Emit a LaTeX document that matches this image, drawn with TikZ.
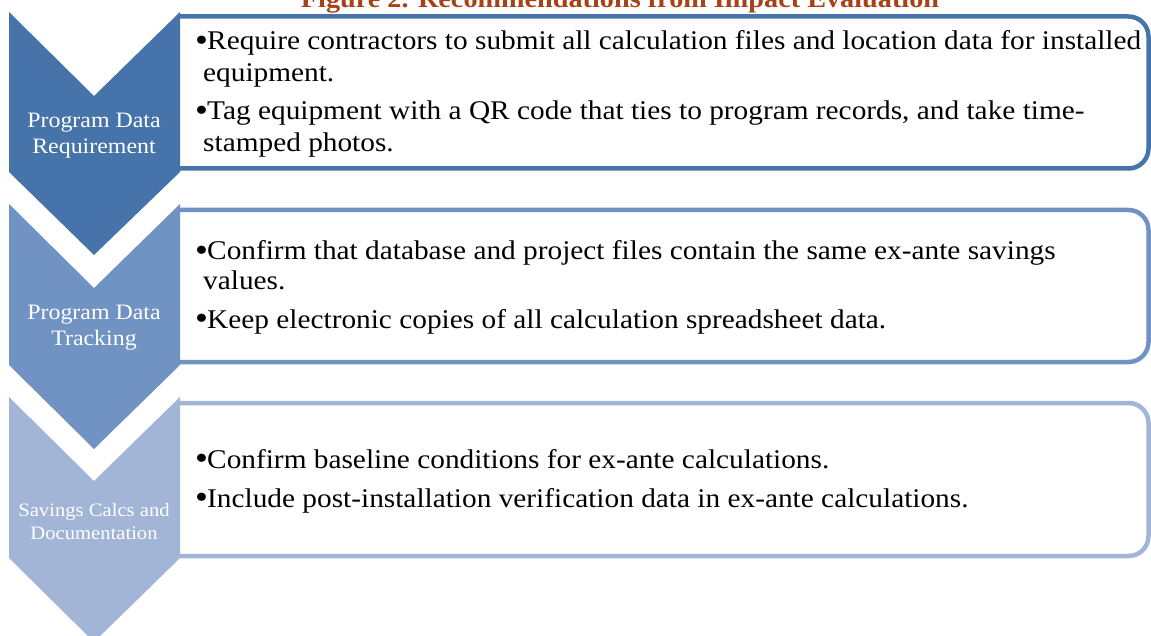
\documentclass[tikz,border=0pt]{standalone}
\usepackage{fontspec}
\setmainfont{Liberation Serif}[FakeStretch=1.086]
\definecolor{cA}{RGB}{70,116,170}
\definecolor{cB}{RGB}{113,147,195}
\definecolor{cC}{RGB}{162,181,214}
\definecolor{ttl}{RGB}{166,66,24}
\begin{document}
\begin{tikzpicture}[x=1pt,y=-1pt,
  body/.style={anchor=base west, inner sep=0pt, font=\fontsize{27}{32}\selectfont, text=black},
  lab/.style={text=white, font=\fontsize{22}{26}\selectfont, align=center, inner sep=0pt},
  labsmall/.style={lab, font=\fontsize{19}{23}\selectfont},
  boxline/.style={line width=4.5pt, rounded corners=20pt}]
\clip (0,0) rectangle (1151,636);
\newcommand{\bl}{\makebox[12pt][l]{\raisebox{-1.5pt}{\fontsize{34}{34}\selectfont\textbullet}}}
% title
\node[anchor=base, inner sep=0pt, font=\bfseries\fontsize{26}{30}\selectfont, text=ttl] (title) at (620,8) {Figure 2. Recommendations from Impact Evaluation};
% boxes
\draw[boxline, draw=cA] (180,16.5) -- (1148.5,16.5) -- (1148.5,168.5) -- (180,168.5);
\draw[boxline, draw=cB] (180,210) -- (1148.5,210) -- (1148.5,362) -- (180,362);
\draw[boxline, draw=cC] (180,403) -- (1148.5,403) -- (1148.5,556) -- (180,556);
% chevrons
\fill[cA] (9,12) -- (94,96) -- (180,12) -- (180,172) -- (94,255) -- (9,172) -- cycle;
\fill[cB] (9,204) -- (94,288) -- (180,204) -- (180,365) -- (94,449) -- (9,365) -- cycle;
\fill[cC] (9,397) -- (94,481) -- (180,397) -- (180,558) -- (94,642) -- (9,558) -- cycle;
% labels
\node[lab] (l1) at (94,136) {Program Data\\Requirement};
\node[lab] (l2) at (94,328) {Program Data\\Tracking};
\node[labsmall] (l3) at (94,521) {Savings Calcs and\\Documentation};
% box texts
\node[body] (a1) at (195,50) {\bl Require contractors to submit all calculation files and location data for installed};
\node[body] (a2) at (203,82) {equipment.};
\node[body] (a3) at (195,120) {\bl Tag equipment with a QR code that ties to program records, and take time-};
\node[body] (a4) at (203,152) {stamped photos.};
\node[body] (b1) at (195,260) {\bl Confirm that database and project files contain the same ex-ante savings};
\node[body] (b2) at (203,290) {values.};
\node[body] (b3) at (195,328) {\bl Keep electronic copies of all calculation spreadsheet data.};
\node[body] (c1) at (195,468) {\bl Confirm baseline conditions for ex-ante calculations.};
\node[body] (c2) at (195,507) {\bl Include post-installation verification data in ex-ante calculations.};
\end{tikzpicture}
\end{document}
